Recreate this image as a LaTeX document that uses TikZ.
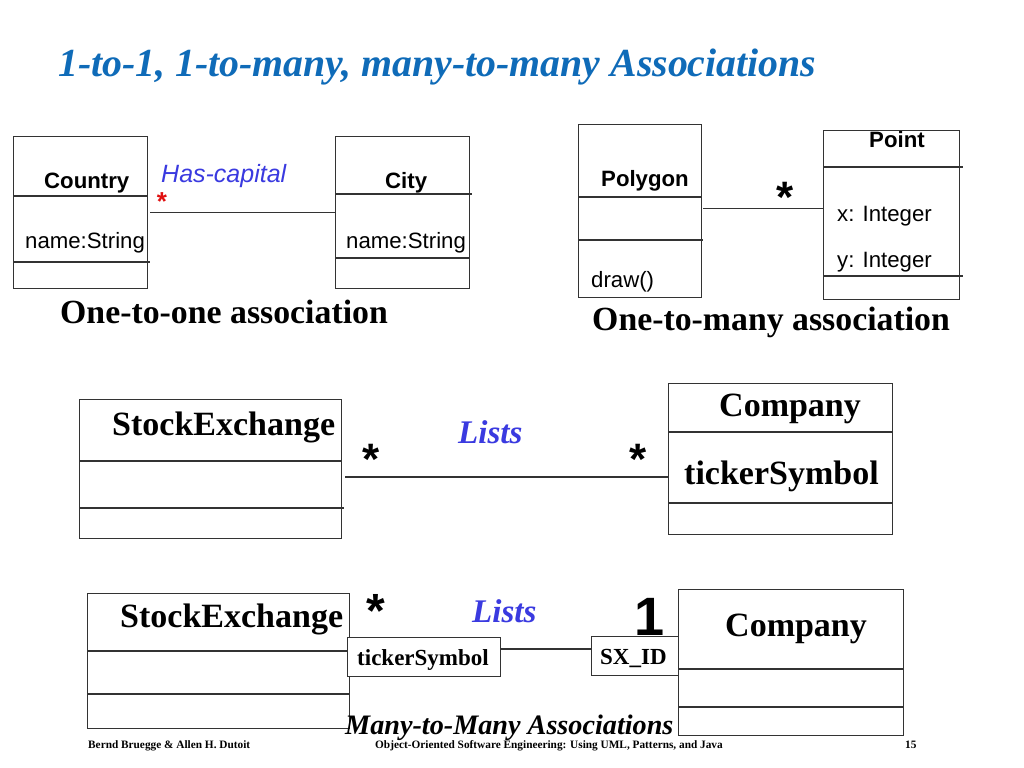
\documentclass[tikz,border=0pt]{standalone}
\usepackage{fontspec}
\setmainfont{Liberation Serif}
\newfontfamily\sansf{Liberation Sans}
\definecolor{titleblue}{HTML}{0F6BB8}
\definecolor{labelblue}{HTML}{3A3AE0}
\definecolor{starred}{HTML}{E01010}
\definecolor{boxline}{HTML}{333333}
\begin{document}
\begin{tikzpicture}[x=1bp,y=-1bp,
  box/.style={draw=boxline, line width=1.3bp, fill=white, inner sep=0pt, anchor=north west},
  div/.style={draw=boxline, line width=1.1bp},
  conn/.style={draw=boxline, line width=1.1bp},
  lbl/.style={inner sep=0pt, anchor=base west},
  cls/.style={lbl, font=\sansf\bfseries\fontsize{22.2bp}{26bp}\selectfont},
  attr/.style={lbl, font=\sansf\fontsize{22.2bp}{26bp}\selectfont},
  big/.style={lbl, font=\bfseries\fontsize{34bp}{40bp}\selectfont},
  small/.style={lbl, font=\bfseries\fontsize{23bp}{28bp}\selectfont},
  caption/.style={lbl, font=\bfseries\fontsize{33.8bp}{40bp}\selectfont},
  ast/.style={inner sep=0pt, font=\sansf\bfseries\fontsize{44bp}{50bp}\selectfont},
  assoc/.style={lbl, text=labelblue, font=\bfseries\itshape\fontsize{33bp}{40bp}\selectfont},
  foot/.style={lbl, font=\bfseries\fontsize{11.3bp}{13bp}\selectfont}]
\useasboundingbox (0,0) rectangle (1024,768);
\fill[white] (0,0) rectangle (1024,768);

% title
\node[lbl, text=titleblue, font=\bfseries\itshape\fontsize{39.8bp}{46bp}\selectfont] (title) at (58,77) {1-to-1, 1-to-many, many-to-many Associations};

% ---------- one-to-one ----------
\node[box, minimum width=134bp, minimum height=152bp] (country) at (13,136) {};
\draw[div] (13,196) -- (147,196);
\draw[div] (13,262) -- (150,262);
\node[cls] (countryname) at (44,188) {Country};
\node[attr] (countryattr) at (25,248) {name:String};

\node[box, minimum width=134bp, minimum height=152bp] (city) at (335,136) {};
\draw[div] (335,194) -- (472,194);
\draw[div] (335,258) -- (469,258);
\node[cls] (cityname) at (385,188) {City};
\node[attr] (cityattr) at (346,248) {name:String};

\draw[conn] ([xshift=2bp]country.east |- 0,212.5) -- (city.west |- 0,212.5);
\node[lbl, text=labelblue, font=\sansf\itshape\fontsize{25bp}{30bp}\selectfont] (hascap) at (161,182) {Has-capital};
\node[ast, text=starred, font=\sansf\bfseries\fontsize{26bp}{30bp}\selectfont] (redstar) at (162,202) {*};
\node[caption] (cap1) at (60,323) {One-to-one association};

% ---------- one-to-many ----------
\node[box, minimum width=123bp, minimum height=173bp] (polygon) at (578,124) {};
\draw[div] (578,197) -- (701,197);
\draw[div] (578,240) -- (703,240);
\node[cls] (polyname) at (601,186) {Polygon};
\node[attr] (polyop) at (591,287) {draw()};

\node[box, minimum width=136bp, minimum height=169bp] (point) at (823,130) {};
\draw[div] (823,167) -- (963,167);
\draw[div] (823,276) -- (963,276);
\node[cls] (pointname) at (869,147) {Point};
\node[attr] (pointx) at (837,221) {x: Integer};
\node[attr] (pointy) at (837,267) {y: Integer};

\draw[conn] ([xshift=1bp]polygon.east |- 0,208.5) -- (point.west |- 0,208.5);
\node[ast] (pstar) at (785,197) {*};
\node[caption] (cap2) at (592,330) {One-to-many association};

% ---------- many-to-many (middle) ----------
\node[box, minimum width=262bp, minimum height=139bp] (se1) at (79,399) {};
\draw[div] (79,461) -- (341,461);
\draw[div] (79,508) -- (344,508);
\node[big] (se1name) at (112,435) {StockExchange};

\node[box, minimum width=224bp, minimum height=151bp] (co1) at (668,383) {};
\draw[div] (668,432) -- (892,432);
\draw[div] (668,503) -- (892,503);
\node[big] (co1name) at (719,416) {Company};
\node[big] (co1attr) at (684,484) {tickerSymbol};

\draw[conn] ([xshift=3bp]se1.east |- 0,477) -- (co1.west |- 0,477);
\node[ast] (star1) at (371,459) {*};
\node[ast] (star2) at (638,459) {*};
\node[assoc] (lists1) at (458,443) {Lists};

% ---------- qualified association (bottom) ----------
\node[box, minimum width=262bp, minimum height=135bp] (se2) at (87,593) {};
\draw[div] (87,651) -- (349,651);
\draw[div] (87,694) -- (350,694);
\node[big] (se2name) at (120,627) {StockExchange};

\node[lbl, font=\sansf\bfseries\fontsize{54bp}{58bp}\selectfont] (one) at (634,635) {1};

\node[box, minimum width=225bp, minimum height=146bp] (co2) at (678,589) {};
\draw[div] (678,669) -- (903,669);
\draw[div] (678,707) -- (903,707);
\node[big] (co2name) at (725,636) {Company};

\node[box, minimum width=153bp, minimum height=39bp] (ts) at (347,637) {};
\node[small] (tsname) at (357,665) {tickerSymbol};
\node[box, minimum width=87bp, minimum height=39bp] (sx) at (591,636) {};
\node[small] (sxname) at (600,664) {SX\_ID};

\draw[conn] (ts.east |- 0,649) -- (sx.west |- 0,649);
\node[ast, font=\sansf\bfseries\fontsize{48bp}{50bp}\selectfont] (star3) at (376,611) {*};
\node[assoc] (lists2) at (472,622) {Lists};

\node[lbl, font=\bfseries\itshape\fontsize{28.2bp}{34bp}\selectfont] (cap3) at (345,734) {Many-to-Many Associations};

% footer
\node[foot] (foot1) at (88,748) {Bernd Bruegge \& Allen H. Dutoit};
\node[foot] (foot2) at (375,748) {Object-Oriented Software Engineering: Using UML, Patterns, and Java};
\node[foot] (foot3) at (905,748) {15};
\end{tikzpicture}
\end{document}
